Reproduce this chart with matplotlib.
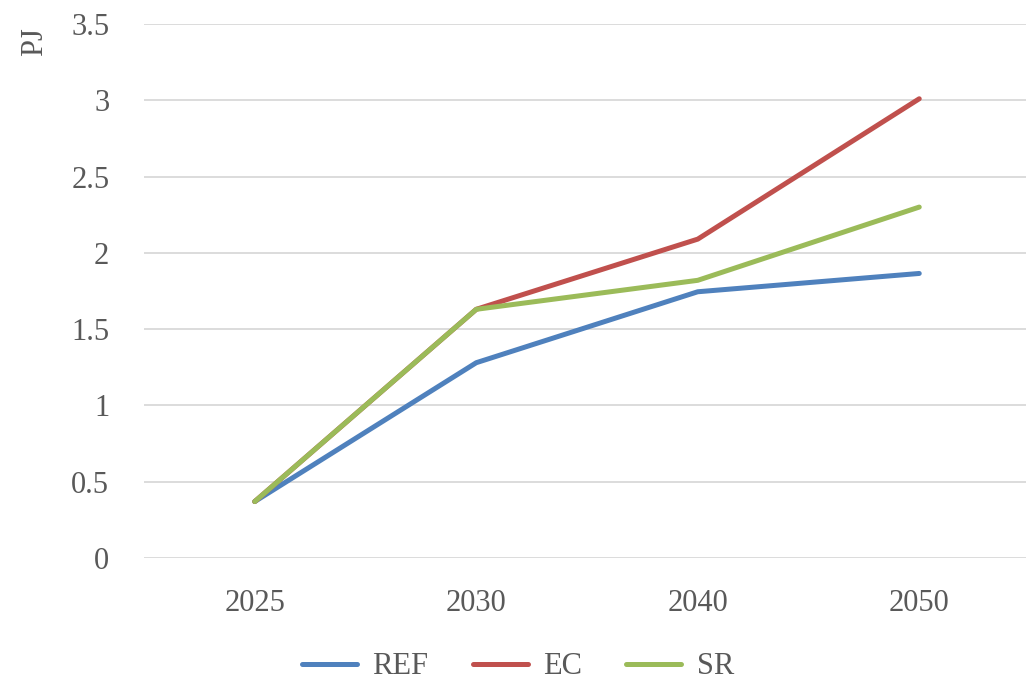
import matplotlib
matplotlib.use("Agg")
import matplotlib.pyplot as plt

years = ["2025", "2030", "2040", "2050"]
ref = [0.37, 1.28, 1.745, 1.865]
ec = [0.37, 1.63, 2.09, 3.01]
sr = [0.37, 1.63, 1.82, 2.30]

series = [("REF", ref, "#4F81BD"), ("EC", ec, "#C0504D"), ("SR", sr, "#9BBB59")]

text_color = "#595959"
plt.rcParams["font.family"] = ["Liberation Serif", "DejaVu Serif"]

fig = plt.figure(figsize=(10.26, 6.85), dpi=100)
ax = fig.add_axes([144 / 1026, 1 - 558 / 685, 886 / 1026, (558 - 24) / 685])

x = range(len(years))
for name, vals, color in series:
    ax.plot(x, vals, color=color, linewidth=3.6, solid_capstyle="round",
            solid_joinstyle="round", label=name)

ax.set_xlim(-0.5, len(years) - 0.5)
ax.set_ylim(0, 3.5)
ax.set_yticks([0, 0.5, 1, 1.5, 2, 2.5, 3, 3.5])
ax.set_yticklabels(["0", "0.5", "1", "1.5", "2", "2.5", "3", "3.5"])
ax.set_xticks(list(x))
ax.set_xticklabels(years)

ax.grid(axis="y", color="#D9D9D9", linewidth=1.3)
ax.set_axisbelow(True)
for s in ax.spines.values():
    s.set_visible(False)
ax.tick_params(axis="both", length=0, labelsize=22, colors=text_color)
ax.tick_params(axis="y", pad=25)
ax.tick_params(axis="x", pad=22)

fig.text(35 / 1026, 1 - 42 / 685, "PJ", rotation=90, ha="center", va="center",
         fontsize=22, color=text_color)

leg = fig.legend(loc="center", bbox_to_anchor=(518 / 1026, 1 - 667 / 685), ncol=3,
                 frameon=False, fontsize=22, handlelength=1.8, handletextpad=0.5,
                 columnspacing=1.45, labelcolor=text_color)

fig.savefig("out.png", dpi=100)
